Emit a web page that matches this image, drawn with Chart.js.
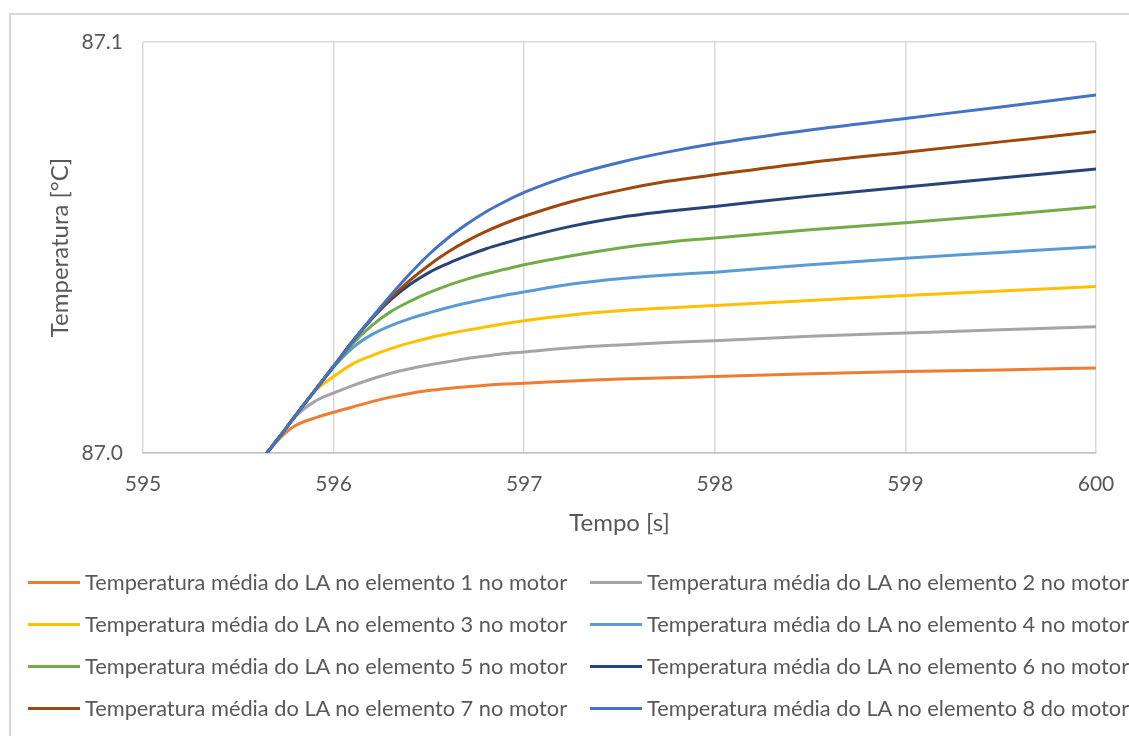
<!DOCTYPE html>
<html>
<head>
<meta charset="utf-8">
<script src="https://cdn.jsdelivr.net/npm/chart.js@4.4.1/dist/chart.umd.min.js"></script>
<style>
  html, body { margin: 0; padding: 0; background: #ffffff; overflow: hidden; }
  #wrap { position: relative; width: 1129px; height: 736px; overflow: hidden; background: #ffffff; }
  #frame { position: absolute; left: 9px; top: 13px; width: 1300px; height: 900px; border: 2px solid #d9d9d9; box-sizing: border-box; }
  #chart { position: absolute; left: 0; top: 0; }
  #legend { position: absolute; left: 0; top: 0; width: 1129px; height: 736px; pointer-events: none; }
  .lg-item { position: absolute; white-space: nowrap; font-family: Lato, "Open Sans", sans-serif; font-size: 21.8px; color: #595959; }
  .lg-line { position: absolute; height: 3px; }
  .lg-text { position: absolute; line-height: 24px; }
</style>
</head>
<body>
<div id="wrap">
  <div id="frame"></div>
  <canvas id="chart" width="1129" height="736"></canvas>
  <div id="legend"></div>
</div>
<script>
// ---- data ----
const times = [595.6, 595.65, 595.7, 595.75, 595.8, 595.9, 596.0, 596.1, 596.2, 596.3, 596.4, 596.5, 596.6, 596.7, 596.8, 596.9, 597.0, 597.25, 597.5, 597.75, 598.0, 598.5, 599.0, 599.5, 600.0];

const seriesNames = [
  "Temperatura média do LA no elemento 1 no motor",
  "Temperatura média do LA no elemento 2 no motor",
  "Temperatura média do LA no elemento 3 no motor",
  "Temperatura média do LA no elemento 4 no motor",
  "Temperatura média do LA no elemento 5 no motor",
  "Temperatura média do LA no elemento 6 no motor",
  "Temperatura média do LA no elemento 7 no motor",
  "Temperatura média do LA no elemento 8 do motor"
];

const elem1 = [86.9970, 87.0000, 87.0027, 87.0050, 87.0067, 87.0085, 87.0099, 87.0112, 87.0125, 87.0136, 87.0145, 87.0152, 87.0157, 87.0161, 87.0165, 87.0168, 87.0170, 87.0175, 87.0180, 87.0183, 87.0186, 87.0193, 87.0198, 87.0202, 87.0207];
const elem2 = [86.9970, 87.0000, 87.0030, 87.0060, 87.0089, 87.0125, 87.0146, 87.0164, 87.0180, 87.0194, 87.0205, 87.0214, 87.0222, 87.0230, 87.0236, 87.0242, 87.0246, 87.0256, 87.0263, 87.0269, 87.0273, 87.0284, 87.0292, 87.0300, 87.0307];
const elem3 = [86.9970, 87.0000, 87.0030, 87.0060, 87.0091, 87.0150, 87.0186, 87.0217, 87.0237, 87.0254, 87.0268, 87.0280, 87.0290, 87.0299, 87.0307, 87.0315, 87.0322, 87.0336, 87.0346, 87.0353, 87.0359, 87.0371, 87.0383, 87.0394, 87.0405];
const elem4 = [86.9970, 87.0000, 87.0030, 87.0060, 87.0091, 87.0151, 87.0209, 87.0256, 87.0288, 87.0310, 87.0327, 87.0341, 87.0354, 87.0365, 87.0375, 87.0384, 87.0392, 87.0411, 87.0424, 87.0433, 87.0440, 87.0458, 87.0474, 87.0488, 87.0502];
const elem5 = [86.9970, 87.0000, 87.0030, 87.0060, 87.0091, 87.0151, 87.0210, 87.0266, 87.0310, 87.0344, 87.0369, 87.0390, 87.0408, 87.0423, 87.0436, 87.0447, 87.0458, 87.0480, 87.0499, 87.0513, 87.0523, 87.0543, 87.0560, 87.0579, 87.0599];
const elem6 = [86.9970, 87.0000, 87.0030, 87.0060, 87.0091, 87.0151, 87.0211, 87.0272, 87.0326, 87.0373, 87.0410, 87.0439, 87.0461, 87.0480, 87.0497, 87.0511, 87.0524, 87.0552, 87.0573, 87.0588, 87.0600, 87.0625, 87.0647, 87.0669, 87.0691];
const elem7 = [86.9970, 87.0000, 87.0030, 87.0060, 87.0091, 87.0151, 87.0211, 87.0272, 87.0327, 87.0377, 87.0420, 87.0457, 87.0489, 87.0516, 87.0539, 87.0559, 87.0576, 87.0612, 87.0639, 87.0661, 87.0677, 87.0707, 87.0732, 87.0757, 87.0782];
const elem8 = [86.9970, 87.0000, 87.0030, 87.0060, 87.0091, 87.0151, 87.0211, 87.0272, 87.0329, 87.0384, 87.0436, 87.0483, 87.0523, 87.0557, 87.0587, 87.0612, 87.0634, 87.0676, 87.0707, 87.0732, 87.0753, 87.0786, 87.0814, 87.0842, 87.0871];

const xTickValues = [595, 596, 597, 598, 599, 600];
const yTickValues = [87.0, 87.1];

const seriesColors = ["#ED7D31", "#A5A5A5", "#FFC000", "#5B9BD5", "#70AD47", "#264478", "#9E480E", "#4472C4"];
const allSeries = [elem1, elem2, elem3, elem4, elem5, elem6, elem7, elem8];

// ---- chart ----
const datasets = allSeries.map((vals, i) => ({
  label: seriesNames[i],
  data: times.map((t, k) => ({ x: t, y: vals[k] })),
  borderColor: seriesColors[i],
  backgroundColor: seriesColors[i],
  borderWidth: 3,
  pointRadius: 0,
  pointHoverRadius: 0,
  fill: false,
  cubicInterpolationMode: 'monotone',
  order: allSeries.length - 1 - i
}));

const tickFont = { family: 'Lato, "Open Sans", sans-serif', size: 21 };
const titleFont = { family: 'Lato, "Open Sans", sans-serif', size: 24 };

const htmlLegend = {
  id: 'htmlLegend',
  afterUpdate(chart) {
    const box = document.getElementById('legend');
    box.innerHTML = '';
    chart.data.datasets.forEach((ds, i) => {
      const col = i % 2, row = Math.floor(i / 2);
      const left = col === 0 ? 28 : 590;
      const cy = 582 + row * 42;
      const item = document.createElement('div');
      item.className = 'lg-item';
      item.style.left = left + 'px';
      item.style.top = (cy - 12) + 'px';
      const line = document.createElement('div');
      line.className = 'lg-line';
      line.style.left = '0px';
      line.style.top = '10.5px';
      line.style.width = '52px';
      line.style.background = ds.borderColor;
      const txt = document.createElement('div');
      txt.className = 'lg-text';
      txt.style.left = '57px';
      txt.style.top = '0px';
      txt.textContent = ds.label;
      item.appendChild(line);
      item.appendChild(txt);
      box.appendChild(item);
    });
  }
};

new Chart(document.getElementById('chart'), {
  type: 'line',
  data: { datasets },
  options: {
    responsive: false,
    animation: false,
    events: [],
    layout: { padding: { left: 0, top: 42, right: 33, bottom: 193 } },
    plugins: {
      legend: { display: false },
      tooltip: { enabled: false },
      title: { display: false }
    },
    scales: {
      x: {
        type: 'linear',
        min: 595,
        max: 600,
        afterBuildTicks(scale) { scale.ticks = xTickValues.map(v => ({ value: v })); },
        afterFit(scale) { scale.height = 90; },
        ticks: {
          color: '#595959',
          font: tickFont,
          padding: 0,
          maxRotation: 0,
          autoSkip: false,
          callback: (v) => String(v)
        },
        grid: { color: '#d9d9d9', lineWidth: 1.5, drawTicks: true, tickLength: 19, tickColor: 'rgba(0,0,0,0)' },
        border: { display: true, color: '#bfbfbf', width: 1.5 },
        title: {
          display: true,
          text: 'Tempo [s]',
          color: '#595959',
          font: titleFont,
          padding: { top: 0, bottom: 5.5 }
        }
      },
      y: {
        type: 'linear',
        min: 87.0,
        max: 87.1,
        afterBuildTicks(scale) { scale.ticks = yTickValues.map(v => ({ value: v })); },
        afterFit(scale) { scale.width = 143; },
        ticks: {
          color: '#595959',
          font: tickFont,
          padding: 20,
          autoSkip: false,
          callback: (v) => Number(v).toFixed(1)
        },
        grid: { color: '#d9d9d9', lineWidth: 1.5, drawTicks: false },
        border: { display: false },
        title: {
          display: true,
          text: 'Temperatura [°C]',
          color: '#595959',
          font: titleFont,
          padding: { top: 45.5, bottom: 0 }
        }
      }
    }
  },
  plugins: [htmlLegend]
});
</script>
</body>
</html>
